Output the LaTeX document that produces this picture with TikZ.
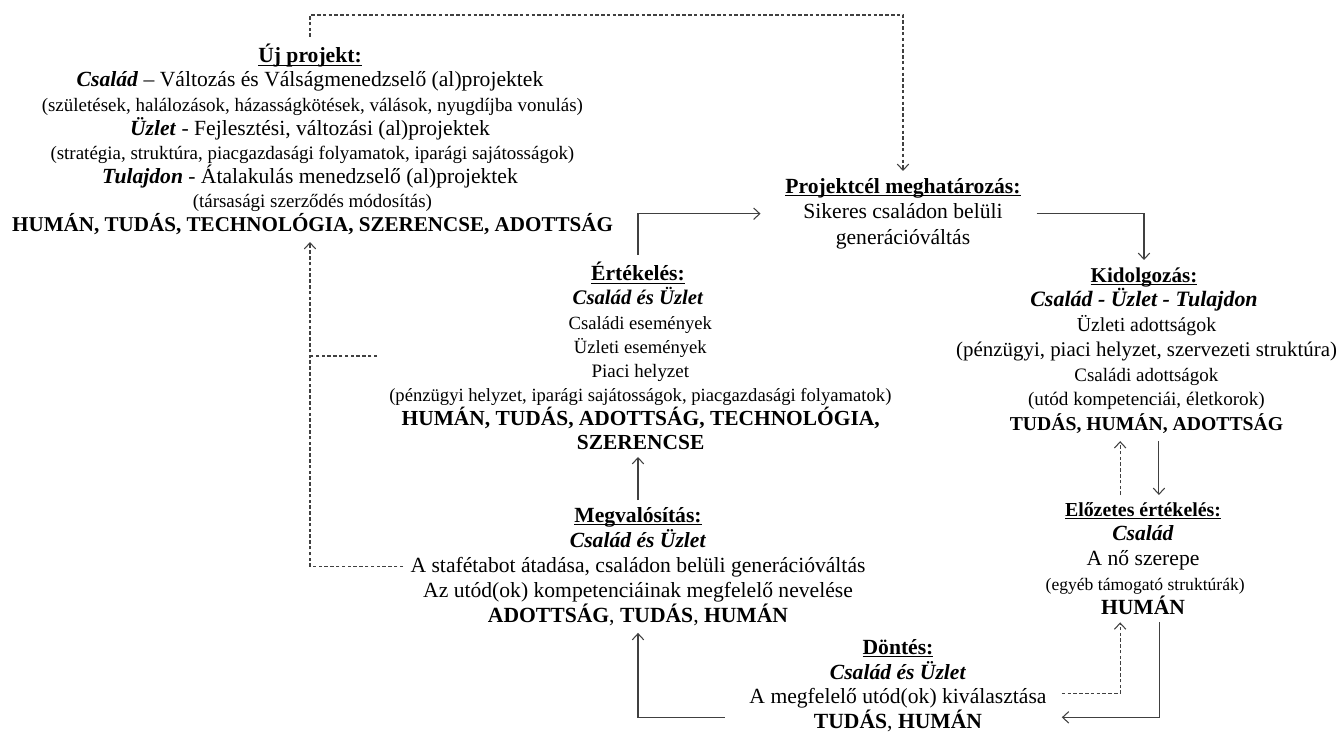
\documentclass[tikz,border=0pt]{standalone}
\usepackage{fontspec}
\setmainfont{Liberation Serif}
\usetikzlibrary{arrows.meta}

\newcommand{\cim}[1]{\textbf{\setbox0\hbox{#1}\rlap{\rule[-1.6pt]{\wd0}{0.55pt}}\box0}}
\newcommand{\kis}[1][10.7]{\fontsize{#1}{14}\selectfont}
\newcommand{\nagy}[1][12.3]{\fontsize{#1}{14}\selectfont\bfseries}
\newcommand{\dolt}[1]{\textbf{\textit{#1}}}
\setlength{\lineskiplimit}{-6pt}

\begin{document}
\begin{tikzpicture}[x=0.02cm, y=-0.02cm,
    every node/.style={align=center, anchor=north, inner sep=4pt,
        font=\fontsize{12.3}{14.2}\selectfont},
    nyil/.style={->, draw=black!75, line width=0.6pt},
    szagg/.style={draw=black!75, line width=0.6pt, dash pattern=on 2pt off 1.3pt},
    >={Straight Barb[length=3.5pt,width=6.5pt]}]
    \useasboundingbox (0,0) rectangle (1337,732);

    \node (ujprojekt) at (310,37) [font=\fontsize{12.3}{13.7}\selectfont] {\cim{Új projekt:}\\
        \dolt{Család} – Változás és Válságmenedzselő (al)projektek\\
        {\kis[10.8] (születések, halálozások, házasságkötések,  válások, nyugdíjba vonulás)}\\
        \dolt{Üzlet} - Fejlesztési, változási (al)projektek\\
        {\kis[10.8] (stratégia, struktúra, piacgazdasági  folyamatok, iparági sajátosságok)}\\
        \dolt{Tulajdon} - Átalakulás menedzselő (al)projektek\\
        {\kis[10.8] (társasági szerződés módosítás)}\\
        {\nagy[12] HUMÁN, TUDÁS, TECHNOLÓGIA, SZERENCSE, ADOTTSÁG}};
    \node (projektcel) at (903,171) [font=\fontsize{12.3}{14.5}\selectfont] {\cim{Projektcél meghatározás:}\\
        Sikeres családon belüli\\ generációváltás};
    \node (ertekeles) at (638,255) [font=\fontsize{12.3}{13.7}\selectfont] {\cim{Értékelés:}\\
        {\fontsize{11.8}{14}\selectfont\dolt{Család és Üzlet}}\\
        {\kis[10.6] Családi események}\\ {\kis[10.6] Üzleti események}\\ {\kis[10.8] Piaci helyzet}\\
        {\kis[10.6] (pénzügyi helyzet, iparági sajátosságok, piacgazdasági  folyamatok)}\\
        {\nagy[12.2] HUMÁN,  TUDÁS, ADOTTSÁG, TECHNOLÓGIA,}\\ {\nagy[12.2] SZERENCSE}};
    \node (kidolgozas) at (1144,260) [font=\fontsize{12}{14.1}\selectfont] {\cim{Kidolgozás:}\\
        {\fontsize{12.5}{14}\selectfont\dolt{Család - Üzlet  - Tulajdon}}\\
        {\kis[11.3] Üzleti adottságok}\\
        {\kis[11.9] (pénzügyi, piaci helyzet, szervezeti struktúra)}\\
        {\kis[10.8] Családi adottságok}\\
        {\kis[10.9] (utód kompetenciái,  életkorok)}\\
        {\nagy[11.2] TUDÁS, HUMÁN, ADOTTSÁG}};
    \node (elozetes) at (1143,495) [font=\fontsize{12.3}{14}\selectfont] {{\fontsize{11.3}{14}\selectfont\cim{Előzetes értékelés:}}\\
        \dolt{Család}\\ A nő szerepe\\ {\kis[10] (egyéb támogató struktúrák)}\\ \textbf{HUMÁN}};
    \node (megvalositas) at (638,500) {\cim{Megvalósítás:}\\
        \dolt{Család és Üzlet}\\
        A stafétabot átadása, családon belüli generációváltás\\
        Az utód(ok) kompetenciáinak megfelelő nevelése\\
        \textbf{ADOTTSÁG}, \textbf{TUDÁS}, \textbf{HUMÁN}};
    \node (dontes) at (898,632) [font=\fontsize{12.3}{14.1}\selectfont] {\cim{Döntés:}\\
        \dolt{Család és Üzlet}\\ A megfelelő utód(ok) kiválasztása\\
        \textbf{TUDÁS}, \textbf{HUMÁN}};

    % segedpontok a kettos nyilakhoz
    \coordinate (kj) at ([xshift=8.5pt]kidolgozas.south);
    \coordinate (eb) at ([xshift=-13pt]elozetes.north);
    \coordinate (ej) at ([xshift=9.5pt]elozetes.south);
    \coordinate (eb2) at ([xshift=-13pt]elozetes.south);
    \coordinate (dj) at ([yshift=-18pt]dontes.east);
    \coordinate (db) at ([yshift=-4.5pt]dontes.east);
    \coordinate (dbal) at ([yshift=-18pt]dontes.west);

    \draw[szagg,->] (ujprojekt.north) -- ++(0,-22) -| (projektcel.north);
    \draw[nyil, shorten >=10pt] (ertekeles.north) |- (projektcel.west);
    \draw[nyil, shorten <=5pt] (projektcel.east) -| (kidolgozas.north);
    \draw[nyil] (kj) -- (kj |- elozetes.north);
    \draw[szagg,->] (eb) -- (eb |- kidolgozas.south);
    \draw[nyil, shorten >=4.5pt] (ej) |- (dj);
    \draw[szagg,->, shorten <=4.5pt] (db) -| (eb2);
    \draw[nyil, shorten <=10pt] (dbal) -| (megvalositas.south);
    \draw[nyil] (megvalositas.north) -- (ertekeles.south);
    \draw[szagg,->] (megvalositas.west) -| (ujprojekt.south);
    \draw[szagg] (ertekeles.west) -- (ertekeles.west -| ujprojekt.south);
\end{tikzpicture}
\end{document}
